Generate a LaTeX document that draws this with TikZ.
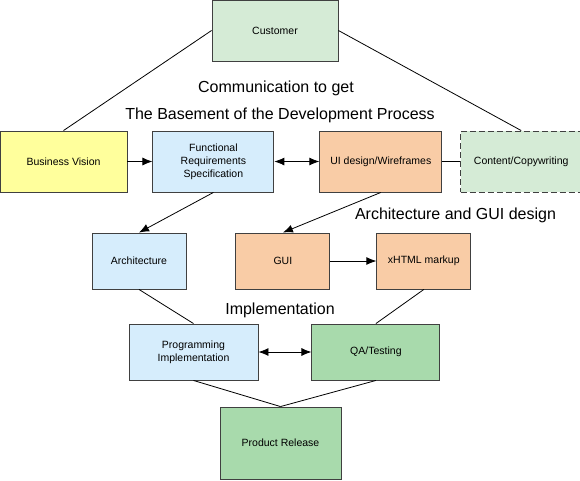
\documentclass[tikz,border=0pt]{standalone}
\usepackage{fontspec}
\setmainfont{Liberation Sans}
\usetikzlibrary{positioning,arrows.meta}

\definecolor{clientgreen}{RGB}{213,235,214}
\definecolor{visionyellow}{RGB}{255,255,156}
\definecolor{specblue}{RGB}{214,237,252}
\definecolor{designorange}{RGB}{249,204,166}
\definecolor{testgreen}{RGB}{168,218,172}

\begin{document}
\begin{tikzpicture}[x=1pt,y=-1pt,
>={Latex[length=10pt,width=8pt]},
every path/.style={line width=0.8pt},
boxnode/.style={rectangle, draw=black!75, line width=0.9pt, inner sep=2pt, align=center, font=\fontsize{10.5}{13}\selectfont},
clientnode/.style={boxnode, fill=clientgreen},
visionnode/.style={boxnode, fill=visionyellow},
specnode/.style={boxnode, fill=specblue},
designnode/.style={boxnode, fill=designorange},
testnode/.style={boxnode, fill=testgreen},
caption/.style={inner sep=0pt, font=\fontsize{16}{18}\selectfont},
]
\useasboundingbox (0,0) rectangle (580,480);

%Nodes
\node[clientnode, minimum width=126pt, minimum height=61pt] (customer) at (275,30.5) {Customer};

\node[visionnode, minimum width=127pt, minimum height=61pt] (vision) at (63.5,161.5) {Business Vision};
\node[specnode, minimum width=121pt, minimum height=61pt] (frs) [right=25pt of vision] {Functional\\Requirements\\Specification};
\node[designnode, minimum width=122pt, minimum height=61pt] (ui) [right=45pt of frs] {UI design/Wireframes};
\node[clientnode, dashed, dash pattern=on 6pt off 3pt, minimum width=121pt, minimum height=61pt] (content) [right=18pt of ui] {Content/Copywriting};

\node[specnode, minimum width=94pt, minimum height=56pt] (arch) at (139,261) {Architecture};
\node[designnode, minimum width=94pt, minimum height=56pt] (gui) [right=49pt of arch] {GUI};
\node[designnode, minimum width=94pt, minimum height=56pt] (xhtml) [right=46pt of gui] {xHTML markup};

\node[specnode, minimum width=129pt, minimum height=56pt] (prog) at (193.5,352) {Programming\\Implementation};
\node[testnode, minimum width=128pt, minimum height=56pt] (qa) [right=53pt of prog] {QA/Testing};

\node[testnode, minimum width=121pt, minimum height=72pt] (release) at (280.5,443) {Product Release};

%Captions
\node[caption] (comm) at (276,88) {Communication to get};
\node[caption] (basement) at (280,115) {The Basement of the Development Process};
\node[caption] (design) at (455.5,215) {Architecture and GUI design};
\node[caption] (impl) at (280,310) {Implementation};

%Lines
\draw (customer.west) -- (vision.north);
\draw (customer.east) -- (content.north);
\draw[->] (vision.east) -- (frs.west);
\draw[<->] (frs.east) -- (ui.west);
\draw (ui.east) -- (content.west);
\draw[->] (frs.south) -- (arch.north);
\draw[->] (ui.south) -- (gui.north);
\draw[->] (gui.east) -- (xhtml.west);
\draw (arch.south) -- (prog.north);
\draw (xhtml.south) -- (qa.north);
\draw[<->] (prog.east) -- (qa.west);
\draw (prog.south) -- (release.north);
\draw (qa.south) -- (release.north);

\end{tikzpicture}
\end{document}
